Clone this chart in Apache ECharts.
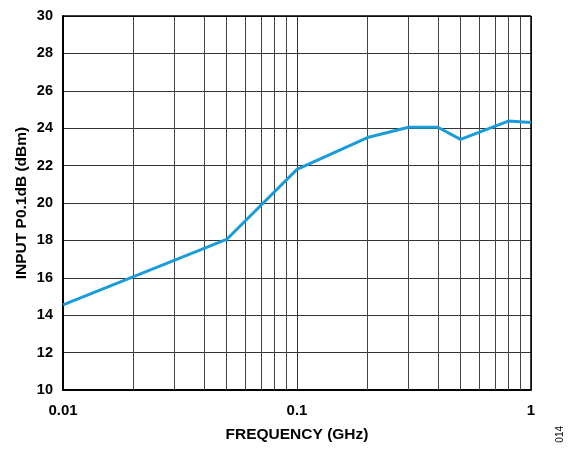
<!DOCTYPE html>
<html><head><meta charset="utf-8">
<script src="https://cdn.jsdelivr.net/npm/echarts@6/dist/echarts.min.js"></script>
<style>html,body{margin:0;padding:0;background:#fff}#c{width:572px;height:449px}</style>
</head><body><div id="c"></div>
<script>
const freqGHz = [0.01, 0.05, 0.1, 0.2, 0.3, 0.4, 0.5, 0.8, 1];
const p01dB = [14.55, 18.05, 21.8, 23.5, 24.05, 24.05, 23.4, 24.38, 24.3];
const minorFreqs = [0.02,0.03,0.04,0.05,0.06,0.07,0.08,0.09,0.2,0.3,0.4,0.5,0.6,0.7,0.8,0.9];
const xTickLabels = {0.01:'0.01', 0.1:'0.1', 1:'1'};

const chart = echarts.init(document.getElementById('c'));
const font = 'Liberation Sans, Arial, sans-serif';
chart.setOption({
  animation: false,
  grid: {left: 63, right: 41, top: 16, bottom: 59},
  xAxis: {
    type: 'log', logBase: 10, min: 0.01, max: 1,
    name: 'FREQUENCY (GHz)', nameLocation: 'middle', nameGap: 37,
    nameTextStyle: {fontFamily: font, fontWeight: 'bold', fontSize: 15.5, color: '#000'},
    axisLine: {show: true, lineStyle: {color: '#000', width: 2}},
    axisTick: {show: false},
    axisLabel: {fontFamily: font, fontWeight: 'bold', fontSize: 15, color: '#000', margin: 13,
      formatter: v => xTickLabels[+v.toPrecision(3)] || ''},
    splitLine: {show: true, lineStyle: {color: '#333', width: 1}}
  },
  yAxis: {
    type: 'value', min: 10, max: 30, interval: 2,
    name: 'INPUT P0.1dB (dBm)', nameLocation: 'middle', nameGap: 33, nameMoveOverlap: false,
    nameTextStyle: {fontFamily: font, fontWeight: 'bold', fontSize: 15.5, color: '#000'},
    axisLine: {show: true, lineStyle: {color: '#000', width: 2}},
    axisTick: {show: false},
    axisLabel: {fontFamily: font, fontWeight: 'bold', fontSize: 14.5, color: '#000', margin: 10},
    splitLine: {show: true, lineStyle: {color: '#333', width: 1}}
  },
  graphic: [{
    type: 'text', left: 555, top: 426, rotation: Math.PI/2,
    style: {text: '014', fontFamily: font, fontSize: 10, fill: '#000'}
  }],
  series: [{
    type: 'line',
    data: freqGHz.map((f, i) => [f, p01dB[i]]),
    symbol: 'none',
    lineStyle: {color: '#1a9cd8', width: 3},
    markLine: {
      silent: true, symbol: 'none', label: {show: false},
      lineStyle: {color: '#444', width: 1, type: 'solid'},
      data: minorFreqs.map(f => ({xAxis: f}))
    },
    z: 5
  }, {
    type: 'line', data: [], symbol: 'none',
    markLine: {silent: true, symbol: 'none', label: {show: false},
      lineStyle: {color: '#000', width: 1.5, type: 'solid'},
      data: [{yAxis: 30}, {xAxis: 1}]}
  }]
});
</script></body></html>
